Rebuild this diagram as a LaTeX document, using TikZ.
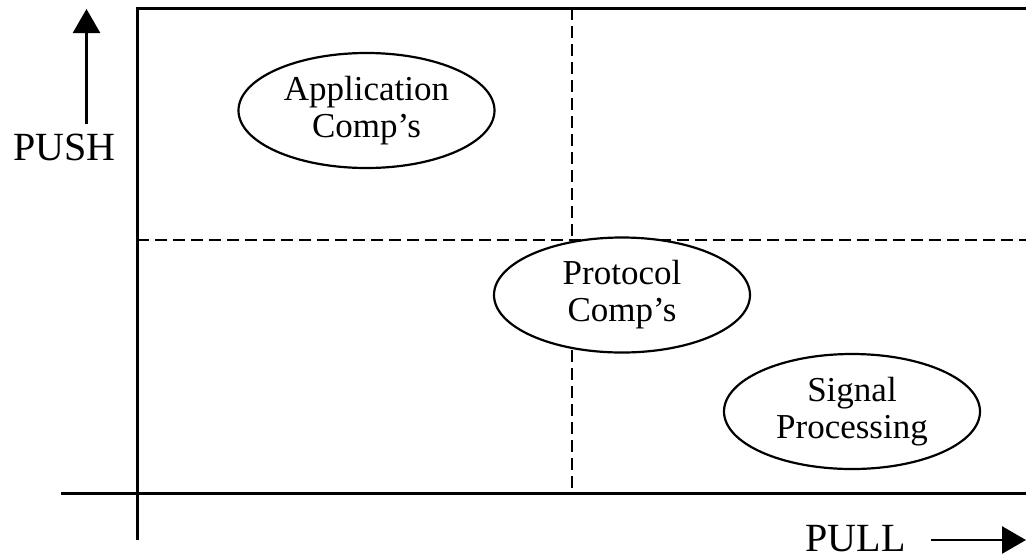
\documentclass[tikz,border=0pt]{standalone}
\usepackage{fontspec}
\setmainfont{Liberation Serif}
\usetikzlibrary{shapes.geometric,arrows.meta}
\begin{document}
\begin{tikzpicture}[x=1pt,y=-1pt,
  axis/.style={line width=3pt},
  grid/.style={line width=2.8pt, dash pattern=on 12pt off 6pt},
  comp/.style={ellipse, draw, line width=2.2pt, minimum width=256pt,
    minimum height=115pt, inner sep=0pt, align=center,
    font=\fontsize{35}{37}\selectfont},
  lbl/.style={font=\fontsize{40}{44}\selectfont, inner sep=0pt,
    text depth=0pt, anchor=base},
  dir/.style={line width=2.6pt, -{Triangle[width=27pt,length=24pt]}}]
\useasboundingbox (0,0) rectangle (1026,558);

% frame and axes
\coordinate (corner) at (137,8);
\coordinate (topend) at (1026,8);
\coordinate (vbottom) at (137,540);
\coordinate (hleft) at (61,493);
\coordinate (hright) at (1026,493);
\draw[axis] (vbottom) -- (corner) -- (topend);
\draw[axis] (hleft) -- (hright);

% quadrant separators
\coordinate (vtop) at (572,8);
\coordinate (vbot) at (572,492);
\coordinate (hl) at (137,240);
\coordinate (hr) at (1026,240);
\draw[grid] (vtop) -- (vbot);
\draw[grid] (hl) -- (hr);

% component groups
\node[comp, fill=white] (app) at (366.5,110.5) {Application\\Comp’s};
\node[comp, fill=white] (proto) at (622,295) {Protocol\\Comp’s};
\node[comp, fill=white] (sig) at (852,411.5) {Signal\\Processing};

% axis labels with direction arrows
\node[lbl] (push) at (64.5,160) {PUSH};
\node[lbl] (pull) at (855.5,551) {PULL};
\coordinate (pushtail) at (86.5,124);
\coordinate (pushtip) at (86.5,9);
\draw[dir] (pushtail) -- (pushtip);
\coordinate (pulltail) at (931,540);
\coordinate (pulltip) at (1026,540);
\draw[dir] (pulltail) -- (pulltip);
\end{tikzpicture}
\end{document}
